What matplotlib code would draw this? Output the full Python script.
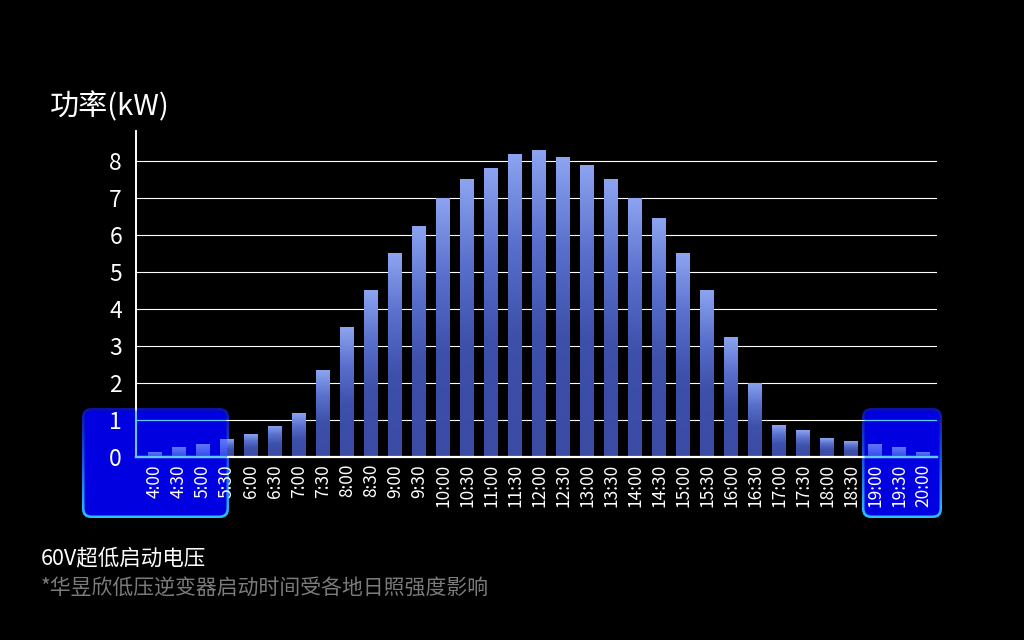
import numpy as np
import matplotlib.pyplot as plt
from matplotlib.patches import FancyBboxPatch
from matplotlib.colors import LinearSegmentedColormap
from matplotlib.transforms import ScaledTranslation, TransformedBbox, Bbox

plt.rcParams['font.family'] = ['Noto Sans CJK SC', 'DejaVu Sans']

# data
times = ["4:00", "4:30", "5:00", "5:30", "6:00", "6:30", "7:00", "7:30", "8:00",
         "8:30", "9:00", "9:30", "10:00", "10:30", "11:00", "11:30", "12:00",
         "12:30", "13:00", "13:30", "14:00", "14:30", "15:00", "15:30", "16:00",
         "16:30", "17:00", "17:30", "18:00", "18:30", "19:00", "19:30", "20:00"]
power = [0.12, 0.25, 0.35, 0.48, 0.62, 0.84, 1.18, 2.35, 3.5,
         4.5, 5.5, 6.25, 7.0, 7.5, 7.8, 8.2, 8.3,
         8.1, 7.9, 7.5, 7.0, 6.45, 5.5, 4.5, 3.25,
         2.0, 0.86, 0.72, 0.5, 0.43, 0.35, 0.25, 0.12]
y_ticks = [0, 1, 2, 3, 4, 5, 6, 7, 8]
y_label = "功率(kW)"
headline = "60V超低启动电压"
footnote = "*华昱欣低压逆变器启动时间受各地日照强度影响"

W, H = 1024, 640
CYAN = "#5ccaff"
fig = plt.figure(figsize=(W / 100, H / 100), dpi=100, facecolor="black")

# background layer in pixel coordinates, holds the highlight boxes
bg = fig.add_axes([0, 0, 1, 1], zorder=0)
bg.axis("off")

border_cmap = LinearSegmentedColormap.from_list("border", ["#0a14a0", "#1a5ae8", "#2ac4ff"])
grad = np.linspace(0, 1, 128).reshape(-1, 1)

boxes = [(82, 408, 147, 110), (862, 408, 80, 110)]
clip_boxes = []
for (bx, by, bw, bh) in boxes:
    outer = FancyBboxPatch((bx, by), bw, bh, boxstyle="round,pad=0,rounding_size=9",
                           facecolor="none", edgecolor="none")
    bg.add_patch(outer)
    im = bg.imshow(grad, extent=[bx, bx + bw, by + bh, by], cmap=border_cmap,
                   aspect="auto", origin="upper", zorder=1)
    im.set_clip_path(outer)
    inner = FancyBboxPatch((bx + 2.5, by + 2.5), bw - 5, bh - 5,
                           boxstyle="round,pad=0,rounding_size=7",
                           facecolor="#0000e0", edgecolor="none", zorder=2)
    bg.add_patch(inner)
    clip_boxes.append(inner)

bg.set_xlim(0, W)
bg.set_ylim(H, 0)

# main chart
ax = fig.add_axes([136 / W, 1 - 457 / H, (937 - 136) / W, (457 - 131) / H], zorder=1)
ax.set_facecolor("none")
x = np.arange(len(times))
ax.set_xlim(-0.79, 32.58)
ax.set_ylim(0, 8.81)

for v in y_ticks[1:]:
    ax.axhline(v, color="white", lw=0.8, zorder=1)

for s in ["top", "right"]:
    ax.spines[s].set_visible(False)
ax.spines["left"].set_color("white")
ax.spines["left"].set_linewidth(1.4)
ax.spines["bottom"].set_color("white")
ax.spines["bottom"].set_linewidth(1.6)
ax.spines["left"].set_zorder(3)
ax.spines["bottom"].set_zorder(3)

bar_cmap = LinearSegmentedColormap.from_list(
    "bar", [(0, "#8ca4f0"), (0.3, "#5870cc"), (0.6, "#3d50aa"), (1, "#3a4ca4")])
lit_cmap = LinearSegmentedColormap.from_list("lit", ["#6078ff", "#4a60f4", "#3848ea"])


def gradient_bars(cmap, clip_box=None, z=2):
    bars = ax.bar(x, power, width=0.58, color="none", zorder=z)
    for b in bars:
        x0, y0 = b.get_x(), b.get_y()
        img = ax.imshow(grad, extent=[x0, x0 + b.get_width(), y0, y0 + b.get_height()],
                        cmap=cmap, aspect="auto", origin="upper", zorder=z)
        img.set_clip_path(b)
        if clip_box is not None:
            img.set_clip_box(clip_box)
    return bars


gradient_bars(bar_cmap)

ax.set_xticks(x)
ax.set_xticklabels(times, rotation=90, color="white", fontsize=12.5)
ax.set_yticks(y_ticks)
ax.set_yticklabels([str(v) for v in y_ticks], color="white", fontsize=16.5)
ax.tick_params(axis="x", length=0, pad=5)
ax.tick_params(axis="y", length=0, pad=10)

# cyan overlay of everything that sits inside the highlight boxes
for box in clip_boxes:
    bb = box.get_bbox()
    disp_bb = TransformedBbox(Bbox.from_extents(bb.x0, bb.y0, bb.x1, bb.y1), bg.transData)
    gradient_bars(lit_cmap, clip_box=disp_bb, z=4)
    ln = ax.axhline(1, color=CYAN, lw=0.8, zorder=5)
    ln.set_clip_path(box)
    ln = ax.axhline(0, color=CYAN, lw=1.6, zorder=5)
    ln.set_clip_box(None)
    ln.set_clip_path(box)
    ln = ax.axvline(ax.get_xlim()[0], color=CYAN, lw=1.4, zorder=5)
    ln.set_clip_box(None)
    ln.set_clip_path(box)
    xoff = ax.get_xaxis_transform() + ScaledTranslation(0, -5 / 72, fig.dpi_scale_trans)
    for i, lab in enumerate(times):
        t = ax.text(i, 0, lab, transform=xoff, rotation=90, ha="center", va="top",
                    color=CYAN, fontsize=12.5, clip_on=True, zorder=6)
        t.set_clip_path(box)
    yoff = ax.get_yaxis_transform() + ScaledTranslation(-10 / 72, 0, fig.dpi_scale_trans)
    for v in y_ticks[:2]:
        t = ax.text(0, v, str(v), transform=yoff, ha="right", va="center_baseline",
                    color=CYAN, fontsize=16.5, clip_on=True, zorder=6)
        t.set_clip_path(box)

fig.text(50 / W, 1 - 107 / H, y_label, color="white", fontsize=21, va="center", ha="left")
fig.text(41 / W, 1 - 558 / H, headline, color="white", fontsize=15.5, va="center", ha="left")
fig.text(41 / W, 1 - 589 / H, footnote, color="#7c7c7c", fontsize=15, va="center", ha="left")

fig.savefig("out.png", dpi=100, facecolor="black")
